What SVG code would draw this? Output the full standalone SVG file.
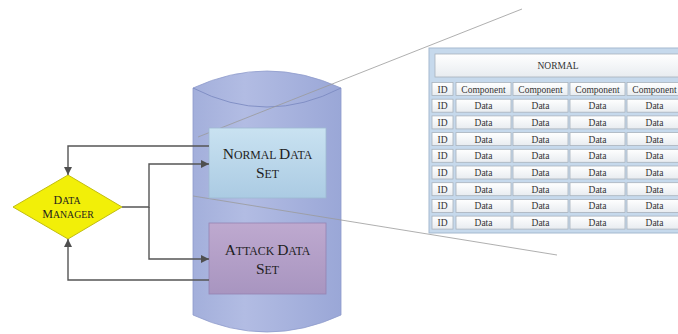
<svg xmlns="http://www.w3.org/2000/svg" width="678" height="334" viewBox="0 0 678 334">
  <defs>
    <linearGradient id="cylFill" x1="0" y1="0" x2="1" y2="0">
      <stop offset="0" stop-color="#a3afdb"/>
      <stop offset="0.35" stop-color="#b2bce3"/>
      <stop offset="1" stop-color="#9aa7d7"/>
    </linearGradient>
    <linearGradient id="normFill" x1="0" y1="0" x2="0" y2="1">
      <stop offset="0" stop-color="#c9e2f1"/>
      <stop offset="1" stop-color="#abcbe3"/>
    </linearGradient>
    <linearGradient id="atkFill" x1="0" y1="0" x2="0" y2="1">
      <stop offset="0" stop-color="#bea9cf"/>
      <stop offset="1" stop-color="#a895c0"/>
    </linearGradient>
    <linearGradient id="cellFill" x1="0" y1="0" x2="0" y2="1">
      <stop offset="0" stop-color="#ffffff"/>
      <stop offset="1" stop-color="#e8ecf0"/>
    </linearGradient>
    <marker id="arrow" viewBox="0 0 10 10" refX="10" refY="5" markerWidth="8" markerHeight="8" markerUnits="userSpaceOnUse" orient="auto">
      <path d="M0,0 L10,5 L0,10 z" fill="#4f4f4f"/>
    </marker>
    <style>
      .conn { fill: none; stroke: #555555; stroke-width: 1.4; }
      .zoomline { stroke: #9a9a9a; stroke-width: 0.8; fill: none; }
      .lbl { font-family: "Liberation Serif", "Times New Roman", serif; fill: #1e1e1e; text-anchor: middle; }
      .big { font-size: 15.5px; }
      .sm { font-size: 11.8px; }
      .dbig { font-size: 12px; }
      .dsm { font-size: 9.8px; }
      .cell { fill: url(#cellFill); stroke: #a9b2bc; stroke-width: 0.8; }
      .ctext { font-family: "Liberation Serif", "Times New Roman", serif; font-size: 9.5px; fill: #333333; text-anchor: middle; }
    </style>
  </defs>

  <!-- storage cylinder -->
  <g id="storage">
    <path d="M193,88 Q267,54 341,88 L341,315 Q267,349 193,315 Z" fill="url(#cylFill)" stroke="#8e9bcc" stroke-width="0.8"/>
    <path d="M193,88 Q267,126 341,88" fill="none" stroke="#7d8bc2" stroke-width="0.9"/>
  </g>

  <!-- projection lines toward the table -->
  <g id="zoom-lines">
    <line class="zoomline" x1="198" y1="137" x2="522" y2="9"/>
    <line class="zoomline" x1="193" y1="196" x2="557" y2="255"/>
  </g>

  <g id="normal-set">
    <rect x="209" y="128" width="117" height="70" fill="url(#normFill)" stroke="#9fb9d2" stroke-width="0.8"/>
    <text class="lbl" x="267.5" y="158.5"><tspan class="big">N</tspan><tspan class="sm">ORMAL </tspan><tspan class="big">D</tspan><tspan class="sm">ATA</tspan></text>
    <text class="lbl" x="267.5" y="177.5"><tspan class="big">S</tspan><tspan class="sm">ET</tspan></text>
  </g>

  <g id="attack-set">
    <rect x="209" y="223" width="117" height="71" fill="url(#atkFill)" stroke="#9583b2" stroke-width="0.8"/>
    <text class="lbl" x="267.5" y="255"><tspan class="big">A</tspan><tspan class="sm">TTACK </tspan><tspan class="big">D</tspan><tspan class="sm">ATA</tspan></text>
    <text class="lbl" x="267.5" y="273.5"><tspan class="big">S</tspan><tspan class="sm">ET</tspan></text>
  </g>

  <g id="data-manager">
    <polygon points="68,175 122,207 68,239 13,207" fill="#f2ef08" stroke="#c2bd10" stroke-width="1"/>
    <text class="lbl" x="67" y="204"><tspan class="dbig">D</tspan><tspan class="dsm">ATA</tspan></text>
    <text class="lbl" x="68" y="218"><tspan class="dbig">M</tspan><tspan class="dsm">ANAGER</tspan></text>
  </g>

  <g id="connectors">
    <path class="conn" d="M209,146 H68 V175" marker-end="url(#arrow)"/>
    <path class="conn" d="M122,207 H149 V164 H209" marker-end="url(#arrow)"/>
    <path class="conn" d="M149,207 V259 H209" marker-end="url(#arrow)"/>
    <path class="conn" d="M209,280 H68 V239" marker-end="url(#arrow)"/>
  </g>

  <!-- expanded view of the normal data set -->
  <g id="normal-table">
    <rect x="429" y="48" width="260" height="185" fill="#c6d9ec" stroke="#a5b9cf" stroke-width="1"/>
    <rect class="cell" x="435" y="54" width="250" height="23"/>
    <text class="ctext" x="558" y="69" font-size="10">NORMAL</text>

    <!-- header row -->
    <g>
      <rect class="cell" x="432" y="82.5" width="21" height="13"/>
      <text class="ctext" x="442.5" y="92.5" font-size="10">ID</text>
      <rect class="cell" x="456" y="82.5" width="55" height="13"/>
      <text class="ctext" x="483.5" y="92.5" font-size="10">Component</text>
      <rect class="cell" x="513" y="82.5" width="55" height="13"/>
      <text class="ctext" x="540.5" y="92.5" font-size="10">Component</text>
      <rect class="cell" x="570" y="82.5" width="55" height="13"/>
      <text class="ctext" x="597.5" y="92.5" font-size="10">Component</text>
      <rect class="cell" x="627" y="82.5" width="55" height="13"/>
      <text class="ctext" x="654.5" y="92.5" font-size="10">Component</text>
    </g>

    <!-- data rows -->
    <g transform="translate(0,16.7)">
      <rect class="cell" x="432" y="82.5" width="21" height="13"/><text class="ctext" x="442.5" y="92.5">ID</text>
      <rect class="cell" x="456" y="82.5" width="55" height="13"/><text class="ctext" x="483.5" y="92.5">Data</text>
      <rect class="cell" x="513" y="82.5" width="55" height="13"/><text class="ctext" x="540.5" y="92.5">Data</text>
      <rect class="cell" x="570" y="82.5" width="55" height="13"/><text class="ctext" x="597.5" y="92.5">Data</text>
      <rect class="cell" x="627" y="82.5" width="55" height="13"/><text class="ctext" x="654.5" y="92.5">Data</text>
    </g>
    <g transform="translate(0,33.4)">
      <rect class="cell" x="432" y="82.5" width="21" height="13"/><text class="ctext" x="442.5" y="92.5">ID</text>
      <rect class="cell" x="456" y="82.5" width="55" height="13"/><text class="ctext" x="483.5" y="92.5">Data</text>
      <rect class="cell" x="513" y="82.5" width="55" height="13"/><text class="ctext" x="540.5" y="92.5">Data</text>
      <rect class="cell" x="570" y="82.5" width="55" height="13"/><text class="ctext" x="597.5" y="92.5">Data</text>
      <rect class="cell" x="627" y="82.5" width="55" height="13"/><text class="ctext" x="654.5" y="92.5">Data</text>
    </g>
    <g transform="translate(0,50.1)">
      <rect class="cell" x="432" y="82.5" width="21" height="13"/><text class="ctext" x="442.5" y="92.5">ID</text>
      <rect class="cell" x="456" y="82.5" width="55" height="13"/><text class="ctext" x="483.5" y="92.5">Data</text>
      <rect class="cell" x="513" y="82.5" width="55" height="13"/><text class="ctext" x="540.5" y="92.5">Data</text>
      <rect class="cell" x="570" y="82.5" width="55" height="13"/><text class="ctext" x="597.5" y="92.5">Data</text>
      <rect class="cell" x="627" y="82.5" width="55" height="13"/><text class="ctext" x="654.5" y="92.5">Data</text>
    </g>
    <g transform="translate(0,66.8)">
      <rect class="cell" x="432" y="82.5" width="21" height="13"/><text class="ctext" x="442.5" y="92.5">ID</text>
      <rect class="cell" x="456" y="82.5" width="55" height="13"/><text class="ctext" x="483.5" y="92.5">Data</text>
      <rect class="cell" x="513" y="82.5" width="55" height="13"/><text class="ctext" x="540.5" y="92.5">Data</text>
      <rect class="cell" x="570" y="82.5" width="55" height="13"/><text class="ctext" x="597.5" y="92.5">Data</text>
      <rect class="cell" x="627" y="82.5" width="55" height="13"/><text class="ctext" x="654.5" y="92.5">Data</text>
    </g>
    <g transform="translate(0,83.5)">
      <rect class="cell" x="432" y="82.5" width="21" height="13"/><text class="ctext" x="442.5" y="92.5">ID</text>
      <rect class="cell" x="456" y="82.5" width="55" height="13"/><text class="ctext" x="483.5" y="92.5">Data</text>
      <rect class="cell" x="513" y="82.5" width="55" height="13"/><text class="ctext" x="540.5" y="92.5">Data</text>
      <rect class="cell" x="570" y="82.5" width="55" height="13"/><text class="ctext" x="597.5" y="92.5">Data</text>
      <rect class="cell" x="627" y="82.5" width="55" height="13"/><text class="ctext" x="654.5" y="92.5">Data</text>
    </g>
    <g transform="translate(0,100.2)">
      <rect class="cell" x="432" y="82.5" width="21" height="13"/><text class="ctext" x="442.5" y="92.5">ID</text>
      <rect class="cell" x="456" y="82.5" width="55" height="13"/><text class="ctext" x="483.5" y="92.5">Data</text>
      <rect class="cell" x="513" y="82.5" width="55" height="13"/><text class="ctext" x="540.5" y="92.5">Data</text>
      <rect class="cell" x="570" y="82.5" width="55" height="13"/><text class="ctext" x="597.5" y="92.5">Data</text>
      <rect class="cell" x="627" y="82.5" width="55" height="13"/><text class="ctext" x="654.5" y="92.5">Data</text>
    </g>
    <g transform="translate(0,116.9)">
      <rect class="cell" x="432" y="82.5" width="21" height="13"/><text class="ctext" x="442.5" y="92.5">ID</text>
      <rect class="cell" x="456" y="82.5" width="55" height="13"/><text class="ctext" x="483.5" y="92.5">Data</text>
      <rect class="cell" x="513" y="82.5" width="55" height="13"/><text class="ctext" x="540.5" y="92.5">Data</text>
      <rect class="cell" x="570" y="82.5" width="55" height="13"/><text class="ctext" x="597.5" y="92.5">Data</text>
      <rect class="cell" x="627" y="82.5" width="55" height="13"/><text class="ctext" x="654.5" y="92.5">Data</text>
    </g>
    <g transform="translate(0,133.6)">
      <rect class="cell" x="432" y="82.5" width="21" height="13"/><text class="ctext" x="442.5" y="92.5">ID</text>
      <rect class="cell" x="456" y="82.5" width="55" height="13"/><text class="ctext" x="483.5" y="92.5">Data</text>
      <rect class="cell" x="513" y="82.5" width="55" height="13"/><text class="ctext" x="540.5" y="92.5">Data</text>
      <rect class="cell" x="570" y="82.5" width="55" height="13"/><text class="ctext" x="597.5" y="92.5">Data</text>
      <rect class="cell" x="627" y="82.5" width="55" height="13"/><text class="ctext" x="654.5" y="92.5">Data</text>
    </g>
  </g>
</svg>
